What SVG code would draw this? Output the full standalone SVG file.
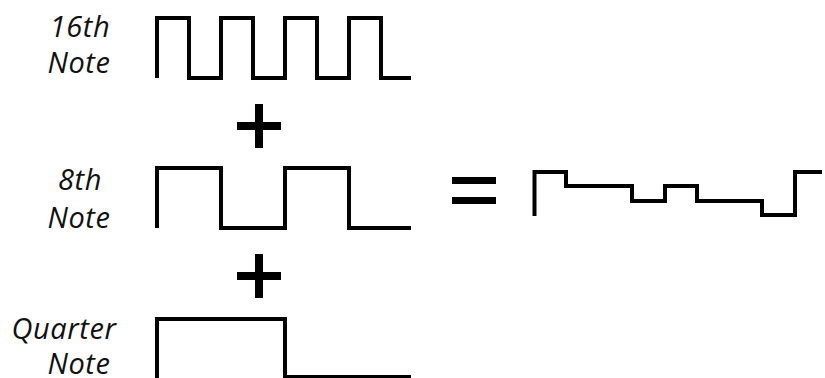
<svg xmlns="http://www.w3.org/2000/svg" width="825" height="378" viewBox="0 0 825 378">
<style>
.wave{fill:none;stroke:#000;stroke-width:4;stroke-linejoin:miter;stroke-linecap:butt}
.lbl{font-family:"Open Sans","Noto Sans",sans-serif;font-style:italic;font-size:29px;letter-spacing:0.6px;fill:#111;text-anchor:middle}
.sym{fill:#000}
</style>
<rect width="825" height="378" fill="#fff"/>
<g id="label16">
<text class="lbl" x="80" y="37">16th</text>
<text class="lbl" x="79" y="73">Note</text>
</g>
<g id="wave16">
<path class="wave" d="M157,78 V18 H189 V78 H221 V18 H253 V78 H285 V18 H317 V78 H349 V18 H381 V78 H411"/>
</g>
<g id="plus1"><rect class="sym" x="237" y="122" width="44" height="8"/><rect class="sym" x="255" y="104" width="8" height="44"/></g>
<g id="label8">
<text class="lbl" x="80" y="190">8th</text>
<text class="lbl" x="79" y="228">Note</text>
</g>
<g id="wave8">
<path class="wave" d="M157,228 V168 H221 V228 H285 V168 H349 V228 H411"/>
</g>
<g id="plus2"><rect class="sym" x="237" y="272" width="44" height="8"/><rect class="sym" x="255" y="254" width="8" height="44"/></g>
<g id="labelQ">
<text class="lbl" x="64" y="339">Quarter</text>
<text class="lbl" x="79" y="374">Note</text>
</g>
<g id="waveQ">
<path class="wave" d="M157,378 V319 H285 V377 H411"/>
</g>
<g id="equals"><rect class="sym" x="452" y="177" width="44" height="7"/><rect class="sym" x="452" y="197" width="44" height="7"/></g>
<g id="result">
<path class="wave" d="M534.5,216 V172 H566 V186 H632 V201 H665 V186 H697 V201 H762 V215 H795 V172 H822"/>
</g>
</svg>
